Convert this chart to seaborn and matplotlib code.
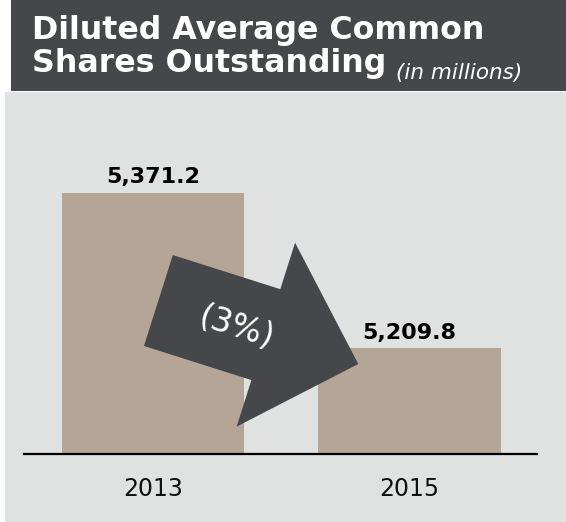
import matplotlib
matplotlib.use("Agg")
import matplotlib.pyplot as plt
import matplotlib.patches as mpatches
import seaborn as sns
import pandas as pd

years = ["2013", "2015"]
shares = [5371.2, 5209.8]
change_label = "(3%)"
title_lines = ["Diluted Average Common", "Shares Outstanding"]
title_note = "(in millions)"

DARK = "#46474B"
PANEL = "#E0E2E1"
BAR = "#B5A596"

W, H = 566, 522

sns.set_style("white")
plt.rcParams["font.family"] = ["DejaVu Sans"]

fig = plt.figure(figsize=(W / 100, H / 100), dpi=100)
fig.patch.set_facecolor("white")


def pixel_axes(z):
    # axes spanning the whole figure, 1 unit = 1 pixel, y pointing down
    a = fig.add_axes([0, 0, 1, 1], zorder=z)
    a.set_xlim(0, W)
    a.set_ylim(H, 0)
    a.axis("off")
    return a


bg = pixel_axes(0)
bg.add_patch(mpatches.Rectangle((11, 0), W - 11, 90.7, color=DARK, lw=0))
bg.add_patch(mpatches.Rectangle((5, 92), W - 5, H - 92, color=PANEL, lw=0))

# main bar chart
base_y = 453.7
top_y = 100
ax = fig.add_axes([24 / W, (H - base_y) / H, 513 / W, (base_y - top_y) / H], zorder=1)
df = pd.DataFrame({"year": years, "shares": shares})
sns.barplot(data=df, x="year", y="shares", order=years, color=BAR, saturation=1,
            width=0.71, linewidth=0, ax=ax)
ax.patch.set_visible(False)
ymin = 5100
ax.set_ylim(ymin, ymin + (base_y - top_y) / 0.962)
ax.set_xlim(-0.503, 1.497)
for s in ["top", "left", "right"]:
    ax.spines[s].set_visible(False)
ax.spines["bottom"].set_color("black")
ax.spines["bottom"].set_linewidth(1.6)
ax.set_yticks([])
ax.set_xlabel("")
ax.set_ylabel("")
ax.tick_params(axis="x", length=0, pad=17, labelsize=17, labelcolor="#111111")
ax.bar_label(ax.containers[0], labels=[f"{v:,.1f}" for v in shares],
             padding=4, fontsize=16, fontweight="bold", color="black")

# foreground: arrow and title text
fg = pixel_axes(2)
fg.add_patch(mpatches.FancyArrow(158.4, 300.5, 199.9, 63.5, width=95.4,
                                 head_width=193, head_length=97,
                                 length_includes_head=True, color=DARK, lw=0))
fg.text(236, 328, change_label, color="white", fontsize=23.5, rotation=-17.6,
        ha="center", va="center", rotation_mode="anchor")

fg.text(32, 39.3, title_lines[0], color="white", fontsize=22.8, fontweight="bold",
        va="baseline", ha="left")
fg.text(32, 71.7, title_lines[1], color="white", fontsize=22.8, fontweight="bold",
        va="baseline", ha="left")
fg.text(396, 78.5, title_note, color="white", fontsize=15.5, style="italic",
        va="baseline", ha="left")

fig.savefig("out.png", dpi=100, facecolor="white")
